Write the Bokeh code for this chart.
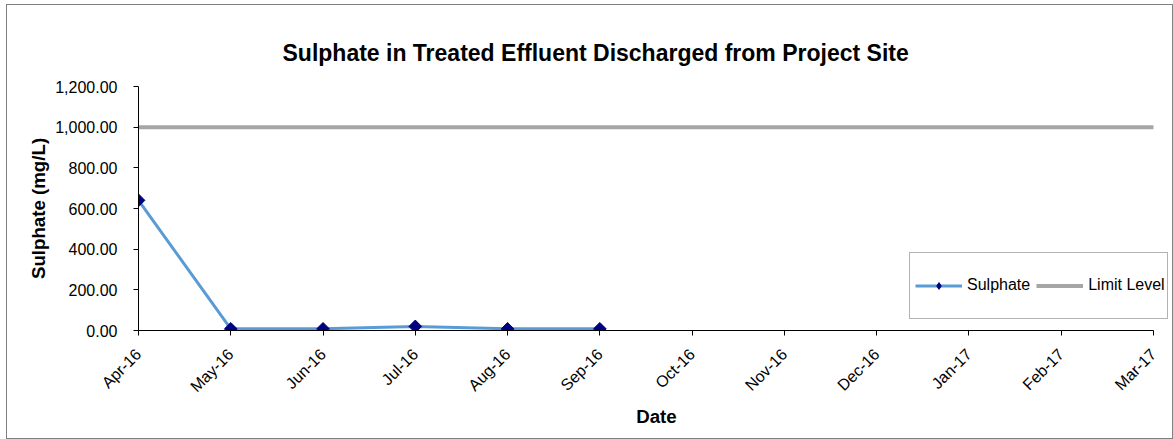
import math
from bokeh.plotting import figure
from bokeh.models import (Range1d, FixedTicker, NumeralTickFormatter, Legend, LegendItem,
                          BoxAnnotation, ColumnDataSource)
from bokeh.embed import file_html
from bokeh.resources import INLINE

months = ["Apr-16", "May-16", "Jun-16", "Jul-16", "Aug-16", "Sep-16",
          "Oct-16", "Nov-16", "Dec-16", "Jan-17", "Feb-17", "Mar-17"]
sulphate = [640.0, 8.0, 8.0, 20.0, 8.0, 8.0]
limit_level = [1000.0] * 12
y_ticks = [0, 200, 400, 600, 800, 1000, 1200]

FONT = "Liberation Sans"

# layout (canvas starts at page x=7, y=5 because of the CSS border/margin)
OX, OY = 7, 5
CW, CH = 1165, 433
FRAME_L, FRAME_T, FRAME_B = 138 - OX, 86 - OY, 328 - OY
STEP = (1151 - 138) / 11.0          # pixels per month
x_end = 11 + (OX + CW - 1151) / STEP  # frame extends to the right edge

x_idx = list(range(len(months)))

p = figure(width=CW, height=CH, output_backend="svg", toolbar_location=None,
           x_range=Range1d(0, x_end), y_range=Range1d(0, 1200),
           min_border_left=FRAME_L, min_border_right=0, min_border_top=FRAME_T,
           min_border_bottom=CH - FRAME_B)
p.styles = {"border": "1px solid #7f7f7f", "box-sizing": "content-box",
            "margin-left": "6px", "margin-top": "4px"}
p.background_fill_color = "white"
p.border_fill_color = "white"
p.outline_line_color = None
p.grid.visible = False

# title
p.title.text = "Sulphate in Treated Effluent Discharged from Project Site"
p.title.text_font = FONT
p.title.text_font_size = "23px"
p.title.text_font_style = "bold"
p.title.text_color = "black"
p.title.align = "left"
p.title.offset = 144
p.title.standoff = 42

# axes
xa = p.xaxis[0]
xa.ticker = FixedTicker(ticks=x_idx)
xa.bounds = (0, len(months) - 1)
xa.major_label_overrides = {i: m for i, m in enumerate(months)}
xa.major_label_orientation = math.pi / 4
xa.major_label_text_font = FONT
xa.major_label_text_font_size = "16px"
xa.major_label_text_color = "black"
xa.major_tick_in = 0
xa.major_tick_out = 5
xa.minor_tick_line_color = None
xa.axis_line_color = "black"
xa.major_tick_line_color = "black"
xa.axis_label = "Date"
xa.axis_label_text_font = FONT
xa.axis_label_text_font_size = "18.7px"
xa.axis_label_text_font_style = "bold"
xa.axis_label_text_color = "black"
xa.major_label_standoff = 16
xa.axis_label_standoff = 2

ya = p.yaxis[0]
ya.ticker = FixedTicker(ticks=y_ticks)
ya.formatter = NumeralTickFormatter(format="0,0.00")
ya.major_label_text_font = FONT
ya.major_label_text_font_size = "16px"
ya.major_label_text_color = "black"
ya.major_tick_in = 0
ya.major_tick_out = 5
ya.minor_tick_line_color = None
ya.axis_line_color = "black"
ya.major_tick_line_color = "black"
ya.major_label_standoff = 16
ya.axis_label = "Sulphate (mg/L)"
ya.axis_label_text_font = FONT
ya.axis_label_text_font_size = "18.7px"
ya.axis_label_text_font_style = "bold"
ya.axis_label_text_color = "black"
ya.axis_label_standoff = 3

src_s = ColumnDataSource(dict(x=x_idx[:len(sulphate)], y=sulphate))
src_l = ColumnDataSource(dict(x=x_idx, y=limit_level))

r_limit = p.line("x", "y", source=src_l, line_color="#A6A6A6", line_width=4)
r_line = p.line("x", "y", source=src_s, line_color="#5B9BD5", line_width=3)
# small diamonds (hidden under the data markers) used for the legend symbol
r_leg_mark = p.scatter("x", "y", source=src_s, marker="diamond", size=6,
                       fill_color="#000080", line_color="#000080")
r_mark = p.scatter("x", "y", source=src_s, marker="square", angle=math.pi / 4, size=9,
                   fill_color="#000080", line_color="#000080")

# legend frame box (page coords 908..1166 x 251..317)
legend_box = BoxAnnotation(left=908 - OX, right=1166 - OX, top=251 - OY, bottom=317 - OY,
                           left_units="canvas", right_units="canvas",
                           top_units="canvas", bottom_units="canvas",
                           fill_color="white", fill_alpha=1,
                           line_color="black", line_width=1, level="annotation")
p.add_layout(legend_box)

legend = Legend(items=[LegendItem(label="Sulphate", renderers=[r_line, r_leg_mark]),
                       LegendItem(label="Limit Level", renderers=[r_limit])],
                orientation="horizontal", location=(915 - 138, 328 - 292))
legend.padding = 0
legend.spacing = 6
legend.margin = 0
legend.glyph_width = 47
legend.glyph_height = 17
legend.label_height = 17
legend.label_standoff = 5
legend.label_text_font = FONT
legend.label_text_font_size = "16px"
legend.label_text_color = "black"
legend.border_line_color = None
legend.background_fill_alpha = 0
p.add_layout(legend, "center")

open("out.html", "w").write(file_html(p, INLINE))
